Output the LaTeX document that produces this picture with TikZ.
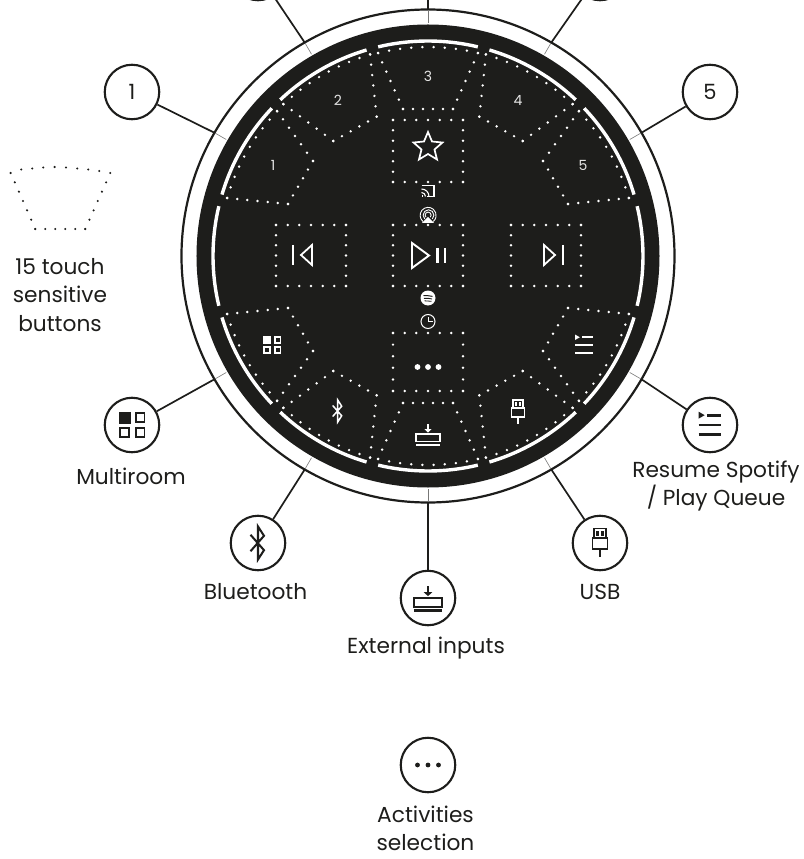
\documentclass[tikz,border=0pt]{standalone}
\usepackage{fontspec}
\setmainfont{Poppins}
\usetikzlibrary{calc}
\definecolor{ink}{HTML}{1D1D1B}
\tikzset{
  callout/.style={circle,draw=ink,line width=2.1pt,minimum size=54.5pt,inner sep=0pt,fill=white},
  lab/.style={text=ink,font=\fontsize{21.7}{28.5}\selectfont,align=center,inner sep=0pt},
  num/.style={text=white!90!black,font=\fontsize{14}{14}\selectfont,inner sep=0pt},
  leadthick/.style={ink,line width=1.7pt},
  leadthin/.style={ink!60,line width=0.6pt},
}
\newcommand{\dotedge}[3]{\foreach \i in {0,...,#3}{\fill ($#1!{\i/#3}!#2$) circle (\dotr);}}
\newcommand{\dotarc}[4]{\foreach \i in {0,...,#4}{\fill ({#2+(#3-#2)*\i/#4}:#1) circle (\dotr);}}
\newcommand{\dotr}{1.35pt}
\newcommand{\ilw}{1}
\newcommand{\dotbox}[6]{% xl xr yt yb nx ny
  \dotedge{(#1,#3)}{(#2,#3)}{#5}\dotedge{(#1,#4)}{(#2,#4)}{#5}
  \dotedge{(#1,#3)}{(#1,#4)}{#6}\dotedge{(#2,#3)}{(#2,#4)}{#6}}
\newcommand{\wedgeA}{% button 1 shape
  \dotedge{(-201,58)}{(-140,52)}{6}\dotedge{(-140,52)}{(-115,95)}{5}\dotedge{(-115,95)}{(-151,145)}{6}\dotarc{209}{136.2}{163.9}{9}}
\newcommand{\wedgeB}{% button 2 shape
  \dotedge{(-144.7,152)}{(-94.7,115)}{6}\dotedge{(-94.7,115)}{(-51.3,139.3)}{5}\dotedge{(-51.3,139.3)}{(-58,201.7)}{6}\dotarc{209.5}{106}{133.6}{9}}
\newcommand{\wedgeC}{% button 3 shape
  \dotedge{(-50,203)}{(-25,147)}{6}\dotedge{(-25,147)}{(25,147)}{5}\dotedge{(25,147)}{(50,203)}{6}\dotarc{209}{76.2}{103.8}{9}}
% icons, drawn round the local origin
\newcommand{\icomulti}[1]{\begin{scope}[shift={#1},line width={\ilw*1.25pt}]
  \fill (-8.9,1) rectangle (-0.9,9);
  \draw (2.7,2) rectangle (8.4,8);
  \draw (-8.3,-8) rectangle (-2.2,-2);
  \draw (2.7,-8) rectangle (8.4,-2);\end{scope}}
\newcommand{\icoblue}[1]{\begin{scope}[shift={#1},line width={\ilw*1.5pt},line join=miter]
  \draw (-5,-5.5) -- (4,4.8) -- (0,11) -- (0,-11) -- (4,-4.8) -- (-5,5.5);\end{scope}}
\newcommand{\icoext}[1]{\begin{scope}[shift={#1},line width={\ilw*1.4pt}]
  \draw (0,10) -- (0,4);
  \fill (-3.6,5) -- (3.6,5) -- (0,1.5) -- cycle;
  \draw (-12,-7.5) rectangle (12,0);
  \draw[line width={\ilw*2pt}] (-12,-10.5) -- (12,-10.5);\end{scope}}
\newcommand{\icousb}[1]{\begin{scope}[shift={#1},line width={\ilw*1.3pt}]
  \draw (-5,4) rectangle (5,12);
  \fill (-3,6) rectangle (-.9,10); \fill (.9,6) rectangle (3,10);
  \draw (-6.3,-5) rectangle (6.3,4);
  \draw (0,-5) -- (0,-12);\end{scope}}
\newcommand{\icoqueue}[1]{\begin{scope}[shift={#1},line width={\ilw*1.9pt}]
  \fill (-9,10.5) -- (-4.2,7.7) -- (-9,5) -- cycle;
  \draw (-2,7.7) -- (9,7.7);
  \draw (-9,0) -- (9,0);
  \draw (-9,-7.7) -- (9,-7.7);\end{scope}}
\begin{document}
\begin{tikzpicture}[x=1pt,y=1pt]
\useasboundingbox (-428,256) rectangle (375,-603);
\clip (-428,256) rectangle (375,-603);
% rings and disc
\coordinate (c) at (0,0);
\draw[ink,line width=2.2pt] (c) circle (246.5);
\fill[ink] (c) circle (231.5);
\foreach \a in {15,45,...,345}{
  \draw[white,line width=3.4pt] ({\a+1.6}:215) arc ({\a+1.6}:{\a+28.4}:215);
}
% leader end points
\foreach \n/\a in {1/150,2/120,3/90,4/60,5/30,m/210,b/240,e/270,u/300,q/330}{
  \coordinate (in\n) at (\a:233);
  \coordinate (out\n) at (\a:246);
}
% callouts
\node[callout] (c1) at (-296,164) {\fontsize{21}{21}\selectfont\color{ink}1};
\node[callout] (c2) at (-170,283) {};
\node[callout] (c3) at (0,310) {};
\node[callout] (c4) at (172,283) {};
\node[callout] (c5) at (282,164) {\fontsize{21}{21}\selectfont\color{ink}5};
\node[callout] (cm) at (-296,-169) {};
\node[callout] (cb) at (-170,-287) {};
\node[callout] (ce) at (0,-342) {};
\node[callout] (cu) at (172,-287) {};
\node[callout] (cq) at (282,-169) {};
\node[callout] (cd) at (0,-509) {};
\foreach \n in {1,2,3,4,5,m,b,e,u,q}{
  \draw[leadthick] (c\n) -- (out\n);
  \draw[leadthin] (out\n) -- (in\n);
}
% dotted buttons
\begin{scope}[white]
\wedgeC
\begin{scope}[yscale=-1]\wedgeC\end{scope}
\wedgeA \wedgeB
\begin{scope}[xscale=-1]\wedgeA \wedgeB\end{scope}
\begin{scope}[yscale=-1]\wedgeA \wedgeB\end{scope}
\begin{scope}[xscale=-1,yscale=-1]\wedgeA \wedgeB\end{scope}
\dotbox{-35}{35}{136}{74}{6}{6}
\dotbox{-152}{-82}{31}{-30}{6}{6}
\dotbox{-35}{35}{31}{-30}{6}{6}
\dotbox{83}{153}{31}{-30}{6}{6}
\dotbox{-35}{35}{-77}{-135}{6}{5}
\end{scope}
% legend trapezoid
\begin{scope}[ink,shift={(-428,256)},yscale=-1]
\renewcommand{\dotr}{1.2pt}
\dotedge{(35.3,229)}{(85.3,229)}{5}
\dotedge{(10.7,173)}{(35.3,229)}{6}
\dotedge{(110.3,173)}{(85.3,229)}{6}
\foreach \x/\y in {21.3/169.5,32.3/168.5,43.3/167.5,54.7/167,66/167.5,77.3/168.5,88.3/169.5,99.3/171}{\fill (\x,\y) circle (1.2pt);}
\end{scope}
% button numbers
\node[num] (n1) at (-155,91) {1};
\node[num] (n2) at (-90,156) {2};
\node[num] (n3) at (0,180) {3};
\node[num] (n4) at (90,156) {4};
\node[num] (n5) at (155,91) {5};
% icons in the disc
\begin{scope}[white,draw=white,fill=white]
\draw[line width=1.7pt,miter limit=10] (0,124)
  -- (4,114.5) -- (14.5,113.5) -- (6.5,106.5) -- (9,96.5) -- (0,102)
  -- (-9,96.5) -- (-6.5,106.5) -- (-14.5,113.5) -- (-4,114.5) -- cycle;
\draw[line width=2.6pt] (-135,11) -- (-135,-9);
\draw[line width=1.8pt] (-116,11) -- (-127,1) -- (-116,-9) -- cycle;
\draw[line width=2.6pt] (135,11) -- (135,-9);
\draw[line width=1.8pt] (116,11) -- (127,1) -- (116,-9) -- cycle;
\draw[line width=1.9pt] (-16,13) -- (1,0.5) -- (-16,-12) -- cycle;
\draw[line width=2.6pt] (9.7,8) -- (9.7,-7);
\draw[line width=2.6pt] (17,8) -- (17,-7);
% cast
\begin{scope}[shift={(0,65)},line width=1.1pt]
  \draw (-6.5,5.5) -- (6,5.5) -- (6,-5.5) -- (-1,-5.5);
  \draw (-6.5,2) arc (90:0:7.5);
  \draw (-6.5,-1.5) arc (90:0:4);
  \fill (-6.5,-5.8) rectangle (-4.6,-4);
\end{scope}
% airplay
\begin{scope}[shift={(0,41)},line width=.9pt]
  \draw (-5,-6.5) arc (230:-50:8);
  \draw (-3.3,-4) arc (225:-45:5.4);
  \draw (-2,-2.2) arc (225:-45:3);
  \fill (0,-2) -- (6,-8) -- (-6,-8) -- cycle;
\end{scope}
% spotify
\begin{scope}[shift={(0,-42)}]
  \fill (0,0) circle (7.5);
  \draw[ink,line width=1pt] (-4.5,2.3) to[bend left=8] (4.5,1.6);
  \draw[ink,line width=.9pt] (-4,-.3) to[bend left=8] (4,-1);
  \draw[ink,line width=.8pt] (-3.5,-2.8) to[bend left=8] (3.5,-3.3);
\end{scope}
% clock
\begin{scope}[shift={(0,-65.5)},line width=1pt]
  \draw (0,0) circle (7);
  \draw (0,4.5) -- (0,0) -- (4.5,0);
\end{scope}
\fill (-10.5,-111) circle (2.9); \fill (0,-111) circle (2.9); \fill (10.5,-111) circle (2.9);
\icomulti{(-155.8,-89)}
\begin{scope}[shift={(-90.3,-155)}]\icoblue{(0,0)}\end{scope}
\begin{scope}[shift={(0,-178)}]\icoext{(0,0)}\end{scope}
\begin{scope}[shift={(90,-156)}]\icousb{(0,0)}\end{scope}
\icoqueue{(156,-89)}
\end{scope}
% icons in the callouts
\begin{scope}[ink,draw=ink,fill=ink]
\renewcommand{\ilw}{1.35}
\begin{scope}[shift={(-296,-169)},scale=1.48]\icomulti{(0,0)}\end{scope}
\begin{scope}[shift={(-170,-287)},scale=1.5]\icoblue{(0,0)}\end{scope}
\begin{scope}[shift={(0,-342)},scale=1.2]\icoext{(0,0)}\end{scope}
\begin{scope}[shift={(172,-287)},scale=1.2]\icousb{(0,0)}\end{scope}
\begin{scope}[shift={(282,-169)},scale=1.27]\icoqueue{(0,0)}\end{scope}
\fill (-10.5,-509) circle (2.4); \fill (0,-509) circle (2.4); \fill (10.5,-509) circle (2.4);
\end{scope}
% labels
\node[lab] (t1) at (-368,-39) {15 touch\\sensitive\\buttons};
\node[lab] (t2) at (-297,-220) {Multiroom};
\node[lab] (t3) at (-172.5,-336) {Bluetooth};
\node[lab] (t4) at (-2,-392) {External inputs};
\node[lab] (t5) at (172,-336) {USB};
\node[lab] (t6) at (288,-230) {Resume Spotify\\/ Play Queue};
\node[lab,font=\fontsize{21.7}{27.5}\selectfont] (t7) at (-2.5,-572.5) {Activities\\selection};
\end{tikzpicture}
\end{document}
